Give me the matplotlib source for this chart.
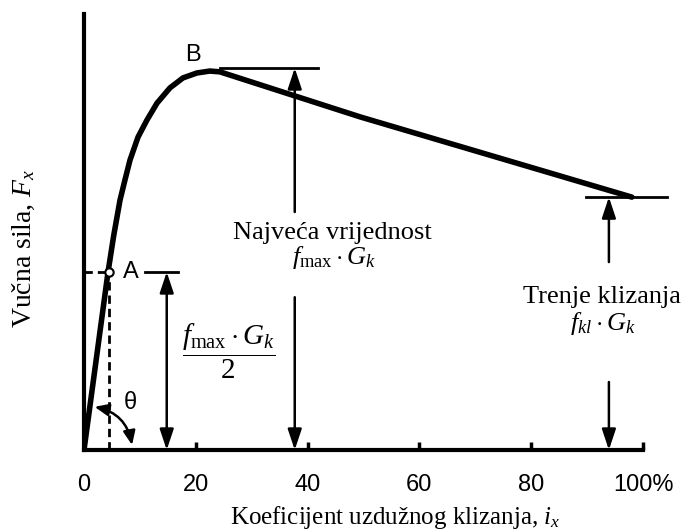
import numpy as np
import matplotlib
matplotlib.use('Agg')
import matplotlib.pyplot as plt
from matplotlib.patches import FancyArrowPatch

plt.rcParams['mathtext.fontset'] = 'custom'
plt.rcParams['mathtext.rm'] = 'Liberation Serif'
plt.rcParams['mathtext.it'] = 'Liberation Serif:italic'

# Traction curve (slip %, force relative to max)
slip = [0, 4.3, 5.3, 6.44, 7.33, 8.23, 9.66, 11.27, 13.06, 15.38, 17.7, 20.2, 22.5, 24.3, 49.4, 98.0]
force = [0, 0.466, 0.56, 0.654, 0.707, 0.759, 0.819, 0.864, 0.908, 0.948, 0.974, 0.987, 0.992, 0.99, 0.872, 0.662]

tick_pos = [0, 20, 40, 60, 80, 100]
tick_lab = ['0', '20', '40', '60', '80', '100%']

# key levels / positions
f_max = 1.0
f_half = 0.466
f_kl = 0.662
x_A = 4.5
x_half = 14.8
x_max = 37.7
x_kl = 93.9

serif = 'Liberation Serif'
sans = 'Liberation Sans'

fig = plt.figure(figsize=(6.84, 5.31), dpi=100)
ax = fig.add_axes([84/684, 1 - 450/531, 600/684, 450/531])
ax.set_xlim(0, 600/5.59)
ax.set_ylim(0, 450/382)

for s in ['top', 'right']:
    ax.spines[s].set_visible(False)
ax.spines['left'].set_bounds(0, 1.141)
ax.spines['bottom'].set_bounds(0, 100)
ax.spines['left'].set_linewidth(3)
ax.spines['bottom'].set_linewidth(3)
ax.set_yticks([])
ax.set_xticks(tick_pos)
ax.set_xticklabels(tick_lab, fontfamily=sans, fontsize=17)
ax.tick_params(axis='x', direction='in', length=6, width=2.5, pad=17)

# main curve
ax.plot(slip, force, color='black', lw=4, solid_joinstyle='round', solid_capstyle='round', zorder=3)

# point A with dashed guides
ax.plot([0, x_A], [f_half, f_half], color='black', lw=2, ls=(0, (3, 1.8)))
ax.plot([x_A, x_A], [0, f_half], color='black', lw=2, ls=(0, (3, 1.8)))
ax.plot([x_A], [f_half], 'o', ms=6, mfc='white', mec='black', mew=1.5, zorder=4)

# reference bars
ax.plot([10.9, 16.8], [f_half, f_half], color='black', lw=2)
ax.plot([24.3, 41.9], [f_max, f_max], color='black', lw=2)
ax.plot([89.8, 104.3], [f_kl, f_kl], color='black', lw=2)


def arrow(x0, y0, x1, y1, style='-|>'):
    a = FancyArrowPatch((x0, y0), (x1, y1), arrowstyle=style + ',head_length=0.9,head_width=0.3',
                        mutation_scale=14, lw=1.8, color='black', shrinkA=0, shrinkB=0)
    ax.add_patch(a)


arrow(x_half, 0, x_half, f_half, '<|-|>')
arrow(x_max, 0.623, x_max, f_max)
arrow(x_max, 0.40, x_max, 0)
arrow(x_kl, 0.492, x_kl, f_kl)
arrow(x_kl, 0.178, x_kl, 0)

# theta arc
theta = FancyArrowPatch((1.9, 0.113), (8.6, 0.013), arrowstyle='<|-|>,head_length=0.7,head_width=0.3',
                        mutation_scale=12, lw=1.8, color='black', shrinkA=0, shrinkB=0,
                        connectionstyle='arc3,rad=-0.33')
ax.add_patch(theta)

# labels
ax.text(19.5, 1.034, 'B', fontfamily=sans, fontsize=17, ha='center', va='center')
ax.text(8.4, f_half, 'A', fontfamily=sans, fontsize=17, ha='center', va='center')
ax.text(8.2, 0.123, 'θ', fontfamily=sans, fontsize=17, ha='center', va='center')

ax.text(44.4, 0.568, 'Najveća vrijednost', fontfamily=serif, fontsize=19, ha='center', va='center')
ax.text(44.7, 0.505, r'$f_{\mathrm{max}}\cdot G_k$', fontsize=19, ha='center', va='center')
ax.text(92.7, 0.40, 'Trenje klizanja', fontfamily=serif, fontsize=19, ha='center', va='center')
ax.text(92.8, 0.332, r'$f_{kl}\cdot G_k$', fontsize=19, ha='center', va='center')
ax.text(25.8, 0.257, r'$\dfrac{f_{\mathrm{max}}\cdot G_k}{2}$', fontsize=21, ha='center', va='center')

fig.text(395/684, 1 - 524/531, r'Koeficijent uzdužnog klizanja, $i_x$', fontfamily=serif,
         fontsize=18, ha='center', va='baseline')
fig.text(24/684, 1 - 248/531, r'Vučna sila, $F_x$', fontfamily=serif, fontsize=20,
         ha='center', va='center', rotation=90)

fig.savefig('out.png', dpi=100)
